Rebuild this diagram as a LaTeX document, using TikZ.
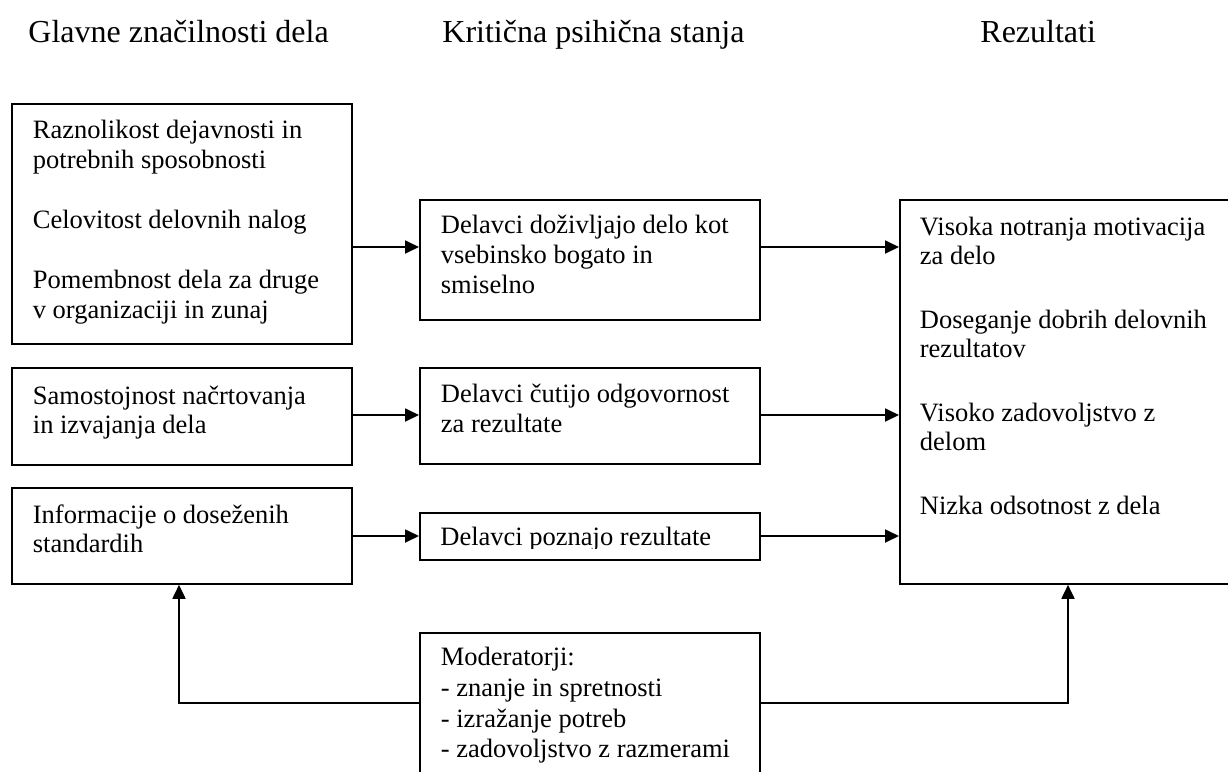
\documentclass[tikz,border=0pt]{standalone}
\usepackage{fontspec}
\setmainfont{Liberation Serif}
\usetikzlibrary{arrows.meta}
\newcommand{\tbox}[6]{\parbox[t][#2][t]{#1}{\fontsize{13.25}{#5}\selectfont\vspace*{\dimexpr#3-\ht\strutbox\relax}\raggedright\leftskip=#4\relax\strut #6}}
\tikzset{
  box/.style={draw, line width=0.9pt, inner sep=0pt, anchor=north west},
  arr/.style={line width=0.9pt, -{Triangle[length=7pt,width=6.5pt]}},
  head/.style={anchor=base west, inner sep=0pt, font=\fontsize{16}{19}\selectfont}
}
\begin{document}
\begin{tikzpicture}[x=0.5pt,y=-0.5pt]
\useasboundingbox (0,0) rectangle (1228,772);
\clip (0,0) rectangle (1228,772);
% headers
\node[head] (h1) at (28,42) {Glavne značilnosti dela};
\node[head] (h2) at (442,42) {Kritična psihična stanja};
\node[head] (h3) at (980,42) {Rezultati};
% left column
\node[box] (A) at (11,103) {\tbox{170pt}{120pt}{17.5pt}{10.5pt}{15pt}{Raznolikost dejavnosti in\\ potrebnih sposobnosti\\[15pt] Celovitost delovnih nalog\\[15pt] Pomembnost dela za druge\\ v organizaciji in zunaj}};
\node[box] (B) at (11,367) {\tbox{170pt}{48.5pt}{18.5pt}{10.5pt}{14.5pt}{Samostojnost načrtovanja\\ in izvajanja dela}};
\node[box] (C) at (11,487) {\tbox{170pt}{48pt}{18pt}{10.5pt}{14.5pt}{Informacije o doseženih\\ standardih}};
% middle column
\node[box] (D) at (419,199) {\tbox{170pt}{60pt}{17pt}{10.5pt}{15pt}{Delavci doživljajo delo kot\\ vsebinsko bogato in\\ smiselno}};
\node[box] (E) at (419,367) {\tbox{170pt}{48pt}{17.5pt}{10.5pt}{15pt}{Delavci čutijo odgovornost\\ za rezultate}};
\node[box, minimum width=170pt, minimum height=23.5pt] (F) at (419,512) {};
\begin{scope}
  \clip (F.north west) rectangle (759,548);
  \node[anchor=base west, inner sep=0pt, font=\fontsize{13.25}{15}\selectfont] (Ft) at (440,545) {Delavci poznajo rezultate};
\end{scope}
\node[box] (M) at (419,632) {\tbox{170pt}{90pt}{16.5pt}{10.5pt}{15.3pt}{Moderatorji:\\ - znanje in spretnosti\\ - izražanje potreb\\ - zadovoljstvo z razmerami}};
% right column
\node[box] (R) at (899,199) {\tbox{172pt}{192pt}{18pt}{10pt}{14.5pt}{Visoka notranja motivacija\\ za delo\\[17.5pt] Doseganje dobrih delovnih\\ rezultatov\\[17.5pt] Visoko zadovoljstvo z\\ delom\\[17.5pt] Nizka odsotnost z dela}};
% helper coordinates
\coordinate (y1) at (0,247);
\coordinate (y2) at (0,415);
\coordinate (y3) at (0,536);
\coordinate (fb) at (0,703);
\coordinate (xl) at (179,0);
\coordinate (xr) at (1068,0);
% connectors
\draw[arr] (A.east |- y1) -- (D.west |- y1);
\draw[arr] (D.east |- y1) -- (R.west |- y1);
\draw[arr] (B.east |- y2) -- (E.west |- y2);
\draw[arr] (E.east |- y2) -- (R.west |- y2);
\draw[arr] (C.east |- y3) -- (F.west |- y3);
\draw[arr] (F.east |- y3) -- (R.west |- y3);
\draw[arr] (M.west |- fb) -| (C.south -| xl);
\draw[arr] (M.east |- fb) -| (R.south -| xr);
\end{tikzpicture}
\end{document}
